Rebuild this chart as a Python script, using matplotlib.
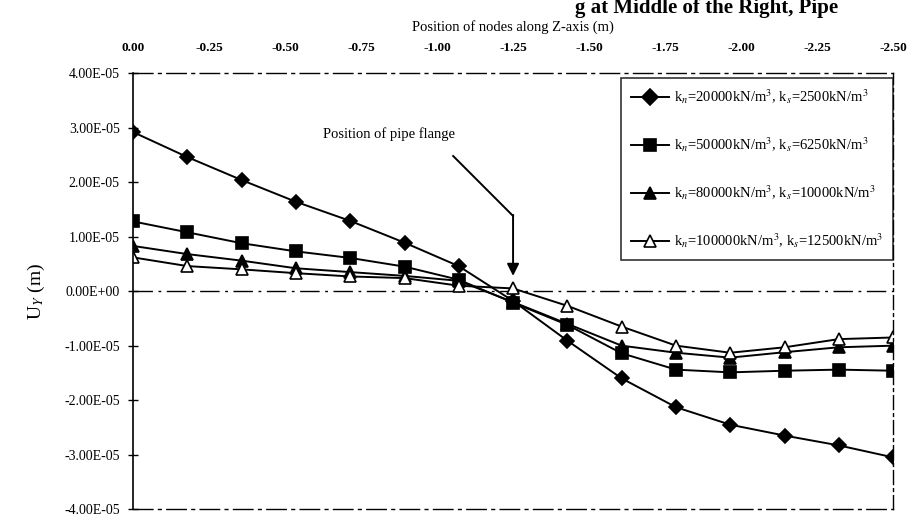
import numpy as np
import matplotlib
matplotlib.use("Agg")
import matplotlib.pyplot as plt

plt.rcParams['font.family'] = ['Liberation Serif', 'DejaVu Serif']
plt.rcParams['mathtext.fontset'] = 'stix'

# node positions along Z (m), 15 nodes from 0 to -2.5
z_pos = [0.0, -0.179, -0.357, -0.536, -0.714, -0.893, -1.071, -1.25,
         -1.429, -1.607, -1.786, -1.964, -2.143, -2.321, -2.5]

# vertical displacement U_Y (x1e-5 m)
uy_k20000 = [2.92, 2.46, 2.04, 1.64, 1.29, 0.89, 0.46, -0.18,
             -0.91, -1.60, -2.13, -2.45, -2.65, -2.83, -3.05]
uy_k50000 = [1.28, 1.08, 0.88, 0.73, 0.61, 0.45, 0.21, -0.21,
             -0.62, -1.14, -1.44, -1.49, -1.46, -1.44, -1.46]
uy_k80000 = [0.83, 0.68, 0.56, 0.42, 0.35, 0.28, 0.19, -0.20,
             -0.60, -1.00, -1.13, -1.22, -1.12, -1.03, -1.00]
uy_k100000 = [0.62, 0.46, 0.40, 0.33, 0.27, 0.24, 0.10, 0.05,
              -0.27, -0.65, -1.00, -1.13, -1.03, -0.88, -0.85]

labels = [r"k$_n$=20000kN/m$^3$, k$_s$=2500kN/m$^3$",
          r"k$_n$=50000kN/m$^3$, k$_s$=6250kN/m$^3$",
          r"k$_n$=80000kN/m$^3$, k$_s$=10000kN/m$^3$",
          r"k$_n$=100000kN/m$^3$, k$_s$=12500kN/m$^3$"]

x_ticks = [0.0, -0.25, -0.5, -0.75, -1.0, -1.25, -1.5, -1.75, -2.0, -2.25, -2.5]
x_ticklabels = ["0.00", "-0.25", "-0.50", "-0.75", "-1.00", "-1.25",
                "-1.50", "-1.75", "-2.00", "-2.25", "-2.50"]
y_ticks = [4e-5, 3e-5, 2e-5, 1e-5, 0.0, -1e-5, -2e-5, -3e-5, -4e-5]
y_ticklabels = ["4.00E-05", "3.00E-05", "2.00E-05", "1.00E-05", "0.00E+00",
                "-1.00E-05", "-2.00E-05", "-3.00E-05", "-4.00E-05"]

flange_z = -1.25

fig = plt.figure(figsize=(9.17, 5.19), dpi=100)
ax = fig.add_axes([0.145, 0.019, 0.829, 0.840])

series = [(uy_k20000, 'D', 'black', 7), (uy_k50000, 's', 'black', 8),
          (uy_k80000, '^', 'black', 8), (uy_k100000, '^', 'white', 8)]
for (vals, mk, fc, ms), lab in zip(series, labels):
    ax.plot(z_pos, np.array(vals) * 1e-5, color='black', lw=1.4,
            marker=mk, markersize=ms, markerfacecolor=fc,
            markeredgecolor='black', markeredgewidth=1.2, label=lab)

ax.set_xlim(0, -2.5)
ax.set_ylim(-4e-5, 4e-5)

# x axis on top
ax.xaxis.set_ticks_position('top')
ax.xaxis.set_label_position('top')
ax.set_xticks(x_ticks)
ax.set_xticklabels(x_ticklabels, fontsize=9.5, fontweight='bold')
ax.tick_params(axis='x', length=0, pad=14)
ax.set_xlabel("Position of nodes along Z-axis (m)", fontsize=10.5, labelpad=8)

ax.set_yticks(y_ticks)
ax.set_yticklabels(y_ticklabels, fontsize=10)
ax.tick_params(axis='y', direction='inout', length=7, width=1, pad=6)
ax.set_ylabel(r"U$_Y$ (m)", fontsize=14, labelpad=12)

# frame like the scanned original
for side in ['top', 'bottom']:
    ax.spines[side].set_linestyle((0, (14, 4, 2, 4)))
    ax.spines[side].set_linewidth(1.0)
ax.spines['right'].set_linestyle((0, (10, 3, 2, 3)))
ax.spines['right'].set_linewidth(1.0)
ax.spines['left'].set_linewidth(1.2)

ax.axhline(0, color='black', lw=1.0, ls=(0, (14, 4, 2, 4)), zorder=1)

# flange annotation
ax.text(-0.842, 2.88e-5, "Position of pipe flange", fontsize=10.5,
        ha='center', va='center')
ax.plot([-1.053, flange_z], [2.48e-5, 1.38e-5], color='black', lw=1.4)
ax.annotate("", xy=(flange_z, 0.28e-5), xytext=(flange_z, 1.40e-5),
            arrowprops=dict(arrowstyle='-|>', color='black', lw=1.4,
                            mutation_scale=18, shrinkA=0, shrinkB=0))

leg = ax.legend(loc='upper right', bbox_to_anchor=(1.0, 0.99), fontsize=10.5,
                frameon=True, fancybox=False, edgecolor='black',
                labelspacing=2.0, handlelength=2.6, handletextpad=0.3,
                borderpad=0.7, borderaxespad=0.0, markerscale=1.1)
leg.get_frame().set_linewidth(1.2)

# title strip at the very top of the scan
fig.text(0.627, 0.984, "g at Middle of the Right, Pipe", fontsize=15,
         fontweight='bold', ha='left', va='center')

fig.savefig("out.png", dpi=100)
